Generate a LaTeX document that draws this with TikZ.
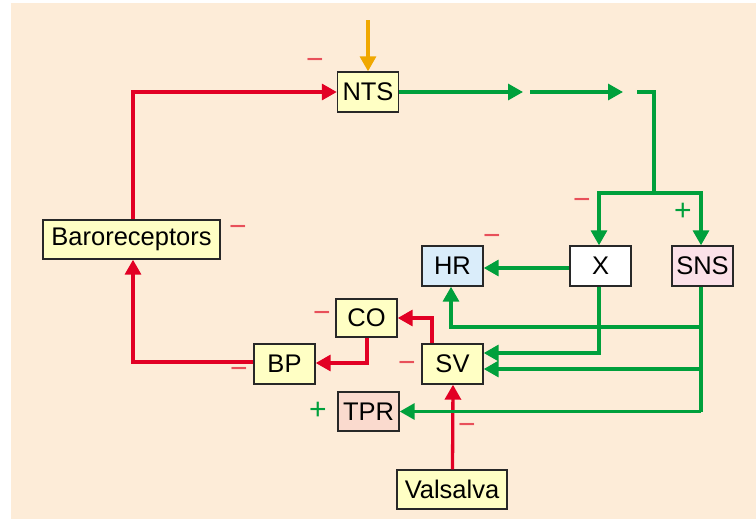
\documentclass[tikz,border=0pt]{standalone}
\usepackage{fontspec}
\setmainfont{Liberation Sans}
\usetikzlibrary{arrows.meta}
\definecolor{peach}{RGB}{253,236,216}
\definecolor{boxyellow}{RGB}{255,255,196}
\definecolor{boxblue}{RGB}{218,237,250}
\definecolor{boxpink}{RGB}{251,225,232}
\definecolor{boxsalmon}{RGB}{250,218,206}
\definecolor{lred}{RGB}{226,0,36}
\definecolor{lgreen}{RGB}{0,160,60}
\definecolor{lorange}{RGB}{240,168,0}
\definecolor{signred}{RGB}{232,80,90}
\definecolor{boxline}{RGB}{40,40,40}
\tikzset{
  blk/.style={draw=boxline, line width=1.4pt, minimum width=61pt, minimum height=40pt,
    inner sep=0pt, font=\fontsize{25.5}{30}\selectfont, text=black},
  wire/.style={line width=3.3pt, -{Triangle[length=15pt,width=16pt]}},
  plain/.style={line width=3.3pt},
  redw/.style={wire, draw=lred},
  greenw/.style={wire, draw=lgreen},
  greenp/.style={plain, draw=lgreen},
  sgn/.style={font=\fontsize{30}{34}\selectfont, inner sep=0pt},
}
\begin{document}
\begin{tikzpicture}[x=1pt,y=-1pt]
\useasboundingbox (0,0) rectangle (756,520);
\fill[peach] (11,3) rectangle (756,519);

% boxes
\node[blk, fill=boxyellow] (NTS) at (368,92) {NTS};
\node[blk, fill=boxyellow, minimum width=177pt, minimum height=39pt] (Baro) at (131.5,239.5) {Baroreceptors};
\node[blk, fill=white] (X) at (600.5,266) {X};
\node[blk, fill=boxpink] (SNS) at (702.5,266) {SNS};
\node[blk, fill=boxblue] (HR) at (452.5,266) {HR};
\node[blk, fill=boxyellow, minimum height=38pt] (CO) at (366.5,318) {CO};
\node[blk, fill=boxyellow] (BP) at (284.5,364) {BP};
\node[blk, fill=boxyellow] (SV) at (452.5,364) {SV};
\node[blk, fill=boxsalmon, minimum height=39pt] (TPR) at (368.5,411.5) {TPR};
\node[blk, fill=boxyellow, minimum width=110pt, minimum height=39pt] (Val) at (452,489.5) {Valsalva};

% coordinates
\coordinate (otop) at (368,20);
\coordinate (c1) at (523,92);
\coordinate (c2) at (530,92);
\coordinate (c3) at (623,92);
\coordinate (c4) at (637,92);
\coordinate (j) at (654,193);
\coordinate (s1) at (702.5,327);
\coordinate (s2) at (702.5,369);
\coordinate (sb) at (702.5,411.5);

% orange input
\draw[wire, draw=lorange] (otop) -- (NTS.north);

% red loop
\draw[redw] ([xshift=1.5pt]Baro.north) |- (NTS.west);
\draw[redw] ([yshift=2pt]BP.west) -| ([xshift=1.5pt]Baro.south);
\draw[redw] ([xshift=0.5pt]CO.south) |- ([yshift=1pt]BP.east);
\draw[redw] ([xshift=-20.5pt]SV.north) |- (CO.east);
\draw[redw] ([xshift=0.5pt]Val.north) -- ([xshift=0.5pt]SV.south);

% green efferents
\draw[greenw] (NTS.east) -- (c1);
\draw[greenw] (c2) -- (c3);
\draw[greenp] (c4) -| (j);
\draw[greenw] (j) -| ([xshift=-1.5pt]X.north);
\draw[greenw] (j) -| ([xshift=-1.5pt]SNS.north);
\draw[greenw] ([yshift=-2pt]X.west) -- ([yshift=-2pt]HR.east);
\draw[greenw] ([xshift=-1.5pt]X.south) |- ([yshift=11pt]SV.east);
\draw[greenp] ([xshift=-1.5pt]SNS.south) -- ([xshift=-1.5pt]sb);
\draw[greenw] ([xshift=-1.5pt]sb) -- (TPR.east);
\draw[greenw] ([xshift=-1.5pt]s1) -| ([xshift=-1.5pt]HR.south);
\draw[greenw] ([xshift=-1.5pt]s2) -- ([yshift=-5pt]SV.east);

% signs
\node[sgn, text=signred] (m1) at (315,64) {−};
\node[sgn, text=signred] (m2) at (238,231) {−};
\node[sgn, text=signred] (m3) at (582,204) {−};
\node[sgn, text=lgreen] (p1) at (683,212) {+};
\node[sgn, text=signred] (m4) at (492,240) {−};
\node[sgn, text=signred] (m5) at (322,317) {−};
\node[sgn, text=signred] (m6) at (239,373) {−};
\node[sgn, text=signred] (m7) at (407,367) {−};
\node[sgn, text=lgreen] (p2) at (318,411) {+};
\node[sgn, text=signred] (m8) at (467,429) {−};
\end{tikzpicture}
\end{document}
